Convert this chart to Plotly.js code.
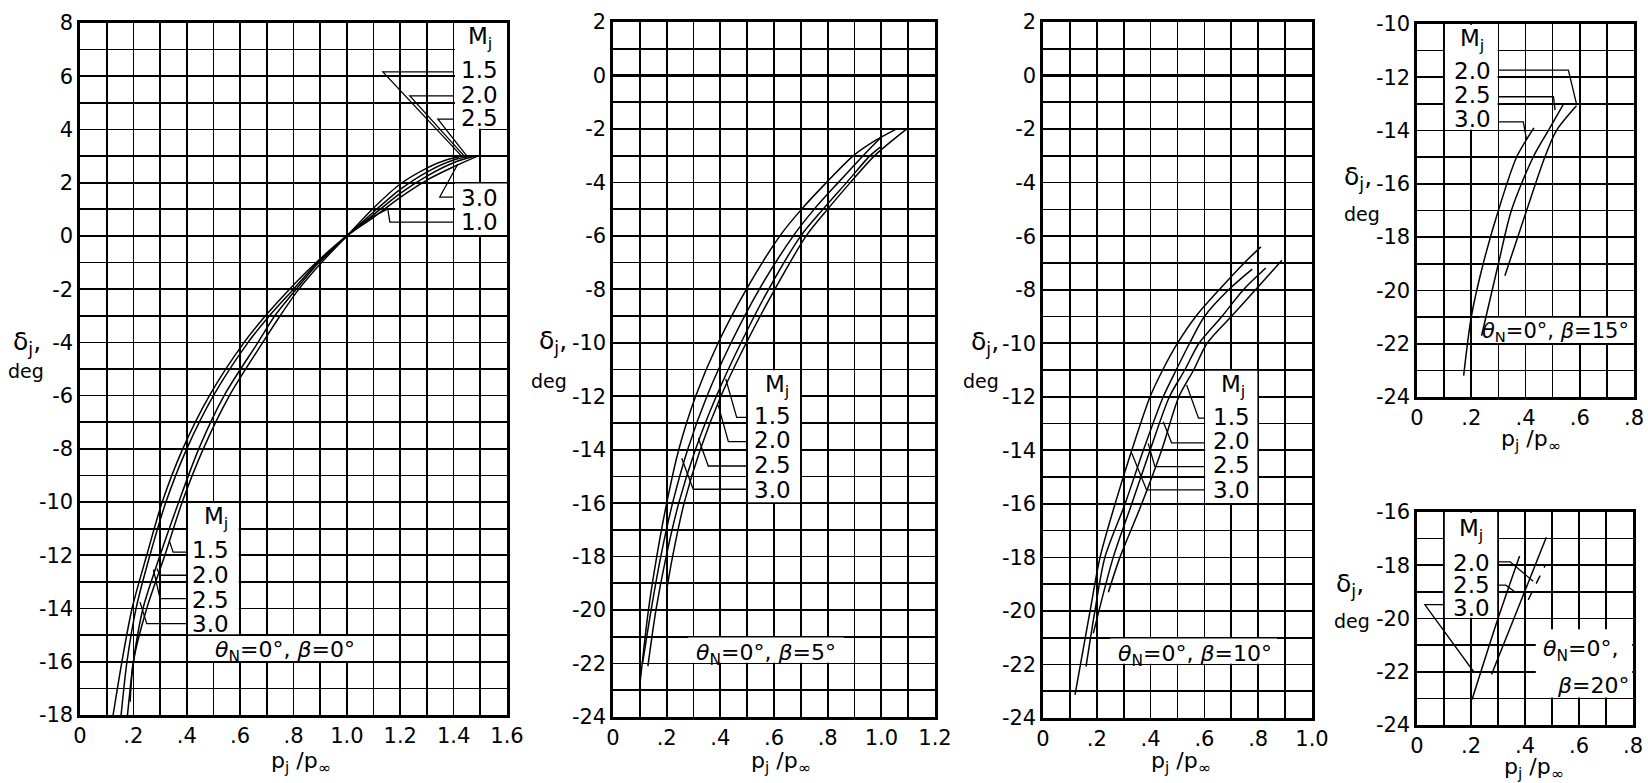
<!DOCTYPE html>
<html><head><meta charset="utf-8">
<script src="https://cdn.plot.ly/plotly-3.0.1.min.js"></script>
<style>html,body{margin:0;padding:0;background:#fff}#chart{width:1648px;height:783px}</style>
</head><body><div id="chart"></div>
<script>
// ---------------- DATA ----------------
// Panel 1: theta_N = 0, beta = 0
const p1_M10_x = [0.9, 1.0, 1.08, 1.15];
const p1_M10_y = [-0.95, 0, 0.62, 1.0];
const p1_M15_x = [0.188, 0.2, 0.25, 0.318, 0.383, 0.462, 0.56, 0.685, 0.75, 0.82, 0.905, 1.0, 1.1, 1.2, 1.3, 1.38, 1.45];
const p1_M15_y = [-17.5, -16, -14, -12, -10, -8, -6, -4, -3, -2, -1, 0, 1.05, 1.95, 2.55, 2.88, 3.02];
const p1_M20_x = [0.178, 0.2, 0.236, 0.30, 0.37, 0.445, 0.54, 0.667, 0.73, 0.81, 0.895, 1.0, 1.1, 1.2, 1.3, 1.4, 1.47];
const p1_M20_y = [-18, -16, -14, -12, -10, -8, -6, -4, -3, -2, -1, 0, 0.9, 1.75, 2.4, 2.85, 3.0];
const p1_M25_x = [0.154, 0.176, 0.21, 0.262, 0.322, 0.40, 0.50, 0.63, 0.71, 0.80, 0.89, 1.0, 1.1, 1.2, 1.3, 1.4, 1.48];
const p1_M25_y = [-18, -16, -14, -12, -10, -8, -6, -4, -3, -2, -1, 0, 0.8, 1.6, 2.25, 2.75, 3.0];
const p1_M30_x = [0.124, 0.157, 0.195, 0.25, 0.308, 0.385, 0.485, 0.615, 0.695, 0.785, 0.885, 1.0, 1.1, 1.2, 1.3, 1.4, 1.49];
const p1_M30_y = [-18, -16, -14, -12, -10, -8, -6, -4, -3, -2, -1, 0, 0.7, 1.45, 2.1, 2.6, 3.0];

// Panel 2: theta_N = 0, beta = 5
const p2_M15_x = [0.2, 0.222, 0.265, 0.325, 0.402, 0.497, 0.603, 0.72, 0.80, 0.885, 0.975, 1.095];
const p2_M15_y = [-19.25, -18, -16, -14, -12, -10, -8, -6, -5, -4, -3, -2.0];
const p2_M20_x = [0.13, 0.16, 0.198, 0.245, 0.307, 0.385, 0.477, 0.58, 0.70, 0.783, 0.871, 0.958, 1.0];
const p2_M20_y = [-22.1, -20, -18, -16, -14, -12, -10, -8, -6, -5, -4, -3, -2.65];
const p2_M25_x = [0.11, 0.142, 0.178, 0.222, 0.278, 0.35, 0.44, 0.545, 0.672, 0.75, 0.84, 0.932, 1.0];
const p2_M25_y = [-22.0, -20, -18, -16, -14, -12, -10, -8, -6, -5, -4, -3, -2.3];
const p2_M30_x = [0.10, 0.132, 0.163, 0.2, 0.245, 0.308, 0.392, 0.497, 0.622, 0.703, 0.796, 0.896, 0.975, 1.057];
const p2_M30_y = [-22.8, -20, -18, -16, -14, -12, -10, -8, -6, -5, -4, -3, -2.45, -2.0];

// Panel 3: theta_N = 0, beta = 10
const p3_M15_x = [0.243, 0.286, 0.367, 0.441, 0.505, 0.56, 0.61, 0.70, 0.79, 0.888];
const p3_M15_y = [-19.3, -18, -16, -14, -12, -11, -10, -9, -8, -6.9];
const p3_M20_x = [0.187, 0.261, 0.33, 0.398, 0.47, 0.527, 0.58, 0.665, 0.745, 0.828];
const p3_M20_y = [-20.84, -18, -16, -14, -12, -11, -10, -9, -8, -7.19];
const p3_M25_x = [0.16, 0.193, 0.23, 0.305, 0.373, 0.447, 0.495, 0.545, 0.60, 0.69, 0.778];
const p3_M25_y = [-22.08, -20, -18, -16, -14, -12, -11, -10, -9, -8, -7.23];
const p3_M30_x = [0.119, 0.175, 0.212, 0.268, 0.33, 0.398, 0.445, 0.50, 0.568, 0.655, 0.748, 0.81];
const p3_M30_y = [-23.14, -20, -18, -16, -14, -12, -11, -10, -9, -8, -7, -6.4];

// Panel 4: theta_N = 0, beta = 15
const p4_M20_x = [0.324, 0.404, 0.471, 0.514, 0.588];
const p4_M20_y = [-19.45, -17, -15, -14, -13.07];
const p4_M25_x = [0.238, 0.3, 0.348, 0.428, 0.484, 0.539];
const p4_M25_y = [-21.7, -19, -17, -15, -14, -13.03];
const p4_M30_x = [0.172, 0.2, 0.244, 0.3, 0.367, 0.431];
const p4_M30_y = [-23.2, -21, -19, -17, -15, -13.9];

// Panel 5: theta_N = 0, beta = 20
const p5_M20_x = [0.276, 0.479];
const p5_M20_y = [-22.1, -16.95];
const p5_M25_x = [0.412, 0.475];
const p5_M25_y = [-19.3, -18.0];
const p5_M30_x = [0.204, 0.3, 0.38];
const p5_M30_y = [-23.04, -20, -17.65];

// Tick labels (every second grid line)
const p1_xlabels = ['0', '.2', '.4', '.6', '.8', '1.0', '1.2', '1.4', '1.6'];
const p1_ylabels = ['-18', '-16', '-14', '-12', '-10', '-8', '-6', '-4', '-2', '0', '2', '4', '6', '8'];
const p2_xlabels = ['0', '.2', '.4', '.6', '.8', '1.0', '1.2'];
const p3_xlabels = ['0', '.2', '.4', '.6', '.8', '1.0'];
const p45_xlabels = ['0', '.2', '.4', '.6', '.8'];
const p23_ylabels = ['-24', '-22', '-20', '-18', '-16', '-14', '-12', '-10', '-8', '-6', '-4', '-2', '0', '2'];
const p4_ylabels = ['-24', '-22', '-20', '-18', '-16', '-14', '-12', '-10'];
const p5_ylabels = ['-24', '-22', '-20', '-18', '-16'];

// Label texts
const machTitle = 'M<sub>j</sub>';
const p1_machUpper = ['1.5', '2.0', '2.5'];
const p1_machLower = ['3.0', '1.0'];
const mach4 = ['1.5', '2.0', '2.5', '3.0'];
const mach3 = ['2.0', '2.5', '3.0'];
const condTexts = ['<i>θ</i><sub>N</sub>=0°, <i>β</i>=0°', '<i>θ</i><sub>N</sub>=0°, <i>β</i>=5°',
  '<i>θ</i><sub>N</sub>=0°, <i>β</i>=10°', '<i>θ</i><sub>N</sub>=0°, <i>β</i>=15°'];
const cond5 = ['<i>θ</i><sub>N</sub>=0°,', '<i>β</i>=20°'];
const yTitle = 'δ<sub>j</sub>,';
const yUnit = 'deg';
const xTitle = 'p<sub>j</sub> /p<sub>∞</sub>';

// ---------------- LAYOUT ----------------
const W = 1648, H = 783;
const FONT = 'DejaVu Sans, sans-serif';
const REF = [{x:'x', y:'y'}, {x:'x2', y:'y2'}, {x:'x3', y:'y3'}, {x:'x4', y:'y4'}, {x:'x5', y:'y5'}];

// major ticks carry the labels (every 2 steps), minor ticks give the grid lines between
function ticks(min, max, step, labels) {
  const vals = [], minor = [];
  const n = Math.round((max - min) / step);
  for (let i = 0; i <= n; i++) {
    const v = +(min + i * step).toFixed(3);
    if (i % 2 === 0) vals.push(v); else minor.push(v);
  }
  return {vals, text: labels, minor};
}
function ax(domain, range, t, anchor, extra) {
  return Object.assign({
    domain, range, anchor, tickmode: 'array', tickvals: t.vals, ticktext: t.text,
    showgrid: true, gridcolor: '#000', gridwidth: 1.7,
    minor: {tickmode: 'array', tickvals: t.minor, showgrid: true, gridcolor: '#000', gridwidth: 1.7, ticks: ''},
    showline: true, linecolor: '#000', linewidth: 2.6, mirror: true,
    ticks: '', zeroline: false, fixedrange: true,
    tickfont: {family: FONT, size: 21, color: '#000'}
  }, extra || {});
}
const dx = (a, b) => [a / W, b / W];
const dy = (top, bottom) => [1 - bottom / H, 1 - top / H];

const layout = {
  width: W, height: H, margin: {l: 0, r: 0, t: 0, b: 0},
  paper_bgcolor: '#fff', plot_bgcolor: '#fff', showlegend: false,
  font: {family: FONT, color: '#000'},
  xaxis:  ax(dx(80, 507),   [0, 1.6], ticks(0, 1.6, 0.1, p1_xlabels), 'y'),
  yaxis:  ax(dy(23, 715),   [-18, 8], ticks(-18, 8, 1, p1_ylabels), 'x'),
  xaxis2: ax(dx(613, 935),  [0, 1.2], ticks(0, 1.2, 0.1, p2_xlabels), 'y2'),
  yaxis2: ax(dy(22, 717),   [-24, 2], ticks(-24, 2, 1, p23_ylabels), 'x2', {zeroline: true, zerolinecolor: '#000', zerolinewidth: 2.6}),
  xaxis3: ax(dx(1043, 1312),[0, 1.0], ticks(0, 1.0, 0.1, p3_xlabels), 'y3'),
  yaxis3: ax(dy(22, 718),   [-24, 2], ticks(-24, 2, 1, p23_ylabels), 'x3', {zeroline: true, zerolinecolor: '#000', zerolinewidth: 2.6}),
  xaxis4: ax(dx(1417, 1634),[0, 0.8], ticks(0, 0.8, 0.1, p45_xlabels), 'y4'),
  yaxis4: ax(dy(24, 397),   [-24, -10], ticks(-24, -10, 1, p4_ylabels), 'x4'),
  xaxis5: ax(dx(1417, 1633),[0, 0.8], ticks(0, 0.8, 0.1, p45_xlabels), 'y5'),
  yaxis5: ax(dy(512, 725),  [-24, -16], ticks(-24, -16, 1, p5_ylabels), 'x5'),
  shapes: [], annotations: []
};

// white label boxes (cover grid, under curves)
function box(p, x0, x1, y0, y1) {
  layout.shapes.push({type: 'rect', xref: REF[p].x, yref: REF[p].y, x0, x1, y0, y1,
    fillcolor: '#fff', line: {width: 0}, layer: 'between'});
}
box(0, 1.405, 1.6, 4.03, 8); box(0, 1.405, 1.495, 3.9, 4.1); box(0, 1.405, 1.6, 0.03, 1.97);
box(0, 0.405, 0.595, -14.97, -10.03); box(0, 0.405, 1.09, -15.97, -15.03);
box(1, 0.503, 0.697, -15.97, -11.03); box(1, 0.28, 0.86, -21.97, -21.03);
box(2, 0.603, 0.797, -15.97, -11.03); box(2, 0.25, 0.87, -21.97, -21.03);
box(3, 0.103, 0.297, -13.97, -10.03); box(3, 0.23, 0.797, -21.97, -21.03);
box(4, 0.103, 0.297, -19.97, -16.03); box(4, 0.44, 0.797, -22.97, -20.4);

// leader lines
function leader(p, pts) {
  const d = pts.map((q, i) => (i ? 'L' : 'M') + q[0] + ',' + q[1]).join(' ');
  layout.shapes.push({type: 'path', xref: REF[p].x, yref: REF[p].y, path: d,
    line: {color: '#000', width: 1.3}, layer: 'above'});
}
leader(0, [[1.4, 6.16], [1.135, 6.16], [1.43, 3.0]]);
leader(0, [[1.4, 5.26], [1.236, 5.26], [1.44, 3.0]]);
leader(0, [[1.4, 4.39], [1.341, 4.39], [1.45, 3.0]]);
leader(0, [[1.4, 1.46], [1.348, 1.46], [1.416, 2.7]]);
leader(0, [[1.4, 0.52], [1.161, 0.52], [1.154, 0.97]]);
leader(0, [[0.4, -11.88], [0.349, -11.88], [0.334, -11.44]]);
leader(0, [[0.4, -12.75], [0.30, -12.75], [0.288, -12.5]]);
leader(0, [[0.4, -13.63], [0.30, -13.63], [0.275, -12.54]]);
leader(0, [[0.4, -14.57], [0.25, -14.57], [0.225, -13.76]]);
leader(1, [[0.503, -12.79], [0.461, -12.79], [0.42, -11.35]]);
leader(1, [[0.503, -13.7], [0.43, -13.7], [0.392, -12.33]]);
leader(1, [[0.503, -14.61], [0.355, -14.61], [0.318, -13.57]]);
leader(1, [[0.503, -15.48], [0.299, -15.48], [0.256, -14.32]]);
leader(2, [[0.6, -12.8], [0.578, -12.8], [0.534, -11.56]]);
leader(2, [[0.6, -13.72], [0.478, -13.72], [0.447, -12.93]]);
leader(2, [[0.6, -14.61], [0.416, -14.61], [0.391, -13.74]]);
leader(2, [[0.6, -15.48], [0.385, -15.48], [0.33, -14.11]]);
leader(3, [[0.3, -11.73], [0.558, -11.73], [0.589, -13.04]]);
leader(3, [[0.3, -12.73], [0.503, -12.73], [0.509, -13.23]]);
leader(3, [[0.3, -13.67], [0.392, -13.67], [0.404, -14.35]]);
leader(4, [[0.3, -17.87], [0.345, -17.87], [0.43, -18.6]]);
leader(4, [[0.3, -18.75], [0.329, -18.75], [0.366, -19.02]]);
leader(4, [[0.1, -19.48], [0.029, -19.48], [0.21, -22.0]]);

// text labels in data coordinates
function lab(p, text, x, y, size) {
  layout.annotations.push({xref: REF[p].x, yref: REF[p].y, x, y, text, showarrow: false,
    xanchor: 'center', yanchor: 'middle', font: {family: FONT, size: size || 23, color: '#000'}});
}
lab(0, machTitle, 1.5, 7.45);
p1_machUpper.forEach((t, i) => lab(0, t, 1.498, [6.23, 5.29, 4.43][i]));
p1_machLower.forEach((t, i) => lab(0, t, 1.498, [1.42, 0.52][i]));
lab(0, machTitle, 0.509, -10.6);
mach4.forEach((t, i) => lab(0, t, 0.49, [-11.81, -12.75, -13.69, -14.59][i]));
lab(0, condTexts[0], 0.77, -15.6, 22);
lab(1, machTitle, 0.611, -11.6);
mach4.forEach((t, i) => lab(1, t, 0.596, [-12.74, -13.64, -14.57, -15.51][i]));
lab(1, condTexts[1], 0.57, -21.65, 22);
lab(2, machTitle, 0.706, -11.6);
mach4.forEach((t, i) => lab(2, t, 0.7, [-12.76, -13.65, -14.55, -15.48][i]));
lab(2, condTexts[2], 0.565, -21.65, 22);
lab(3, machTitle, 0.203, -10.6);
mach3.forEach((t, i) => lab(3, t, 0.203, [-11.78, -12.67, -13.57][i]));
lab(3, condTexts[3], 0.512, -21.55, 21);
lab(4, machTitle, 0.2, -16.68);
mach3.forEach((t, i) => lab(4, t, 0.202, [-17.9, -18.74, -19.6][i]));
lab(4, cond5[0], 0.604, -21.2, 22);
lab(4, cond5[1], 0.652, -22.5, 22);

// axis titles (paper coordinates from pixel positions)
function ptxt(text, px, py, size) {
  layout.annotations.push({xref: 'paper', yref: 'paper', x: px / W, y: 1 - py / H, text, showarrow: false,
    xanchor: 'center', yanchor: 'middle', font: {family: FONT, size, color: '#000'}});
}
[[27, 343, 26, 371], [553, 342, 549, 381], [985, 343, 981, 381], [1358, 178, 1362, 214], [1350, 585, 1352, 621]]
  .forEach(a => { ptxt(yTitle, a[0], a[1], 25); ptxt(yUnit, a[2], a[3], 19); });
[[300, 762], [780, 762], [1180, 762], [1530, 440], [1533, 768]].forEach(a => ptxt(xTitle, a[0], a[1], 22));

// ---------------- TRACES ----------------
const curves = [
  [0, p1_M10_x, p1_M10_y], [0, p1_M15_x, p1_M15_y], [0, p1_M20_x, p1_M20_y], [0, p1_M25_x, p1_M25_y], [0, p1_M30_x, p1_M30_y],
  [1, p2_M15_x, p2_M15_y], [1, p2_M20_x, p2_M20_y], [1, p2_M25_x, p2_M25_y], [1, p2_M30_x, p2_M30_y],
  [2, p3_M15_x, p3_M15_y], [2, p3_M20_x, p3_M20_y], [2, p3_M25_x, p3_M25_y], [2, p3_M30_x, p3_M30_y],
  [3, p4_M20_x, p4_M20_y], [3, p4_M25_x, p4_M25_y], [3, p4_M30_x, p4_M30_y],
  [4, p5_M20_x, p5_M20_y], [4, p5_M25_x, p5_M25_y, 'dash'], [4, p5_M30_x, p5_M30_y]
];
const traces = curves.map(c => ({
  type: 'scatter', mode: 'lines', x: c[1], y: c[2], xaxis: REF[c[0]].x, yaxis: REF[c[0]].y,
  line: {color: '#000', width: 1.5, shape: 'spline', smoothing: 0.8, dash: c[3] || 'solid'},
  hoverinfo: 'skip', showlegend: false
}));

Plotly.newPlot('chart', traces, layout, {staticPlot: true, displayModeBar: false});
</script>
</body></html>
